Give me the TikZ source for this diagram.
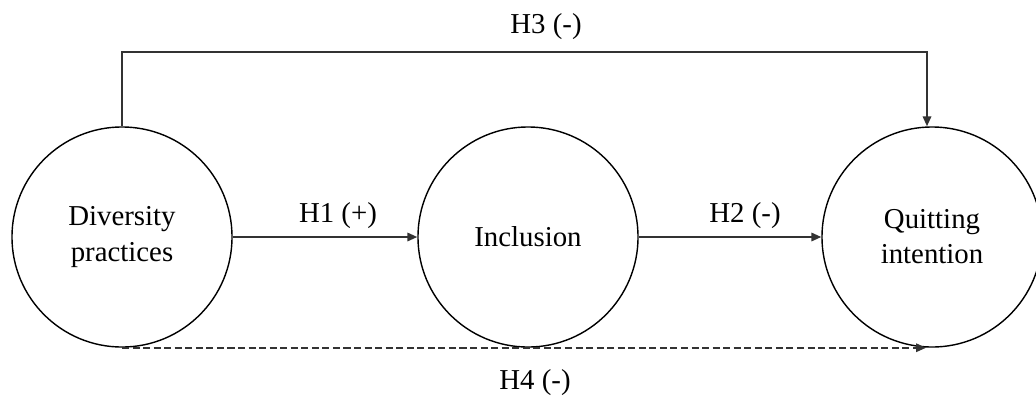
\documentclass[tikz,border=0pt]{standalone}
\usepackage{fontspec}
\setmainfont{Liberation Serif}
\usetikzlibrary{arrows.meta}
\begin{document}
\begin{tikzpicture}[x=0.025cm,y=-0.025cm,
  construct/.style={draw, circle, line width=1pt, minimum size=5.5cm, inner sep=0pt, align=center, font=\fontsize{20.5}{25}\selectfont},
  lbl/.style={font=\fontsize{20.5}{25}\selectfont, inner sep=0pt},
  link/.style={line width=1.3pt, draw=black!80, -{Triangle[length=7pt,width=6pt]}}]
\useasboundingbox (0,0) rectangle (1036,396);
\node[construct] (dp) at (122,237) {Diversity\\practices};
\node[construct] (inc) at (528,237) {Inclusion};
\node[construct] (qi) at (932,237) {Quitting\\intention};
\coordinate (tl) at (122,52);
\coordinate (tr) at (927,52);
\draw[link] (dp.north) -- (tl) -- (tr) -- (tr |- qi.north);
\draw[link] (dp.east) -- (inc.west);
\draw[link] (inc.east) -- (qi.west);
\draw[link, line width=1.1pt, dash pattern=on 5pt off 2.5pt] (dp.south) -- ([xshift=-0.15cm]qi.south);
\node[lbl] (h3) at (546,27) {H3 (-)};
\node[lbl] (h1) at (338,216) {H1 (+)};
\node[lbl] (h2) at (745,216) {H2 (-)};
\node[lbl] (h4) at (535,383) {H4 (-)};
\end{tikzpicture}
\end{document}
